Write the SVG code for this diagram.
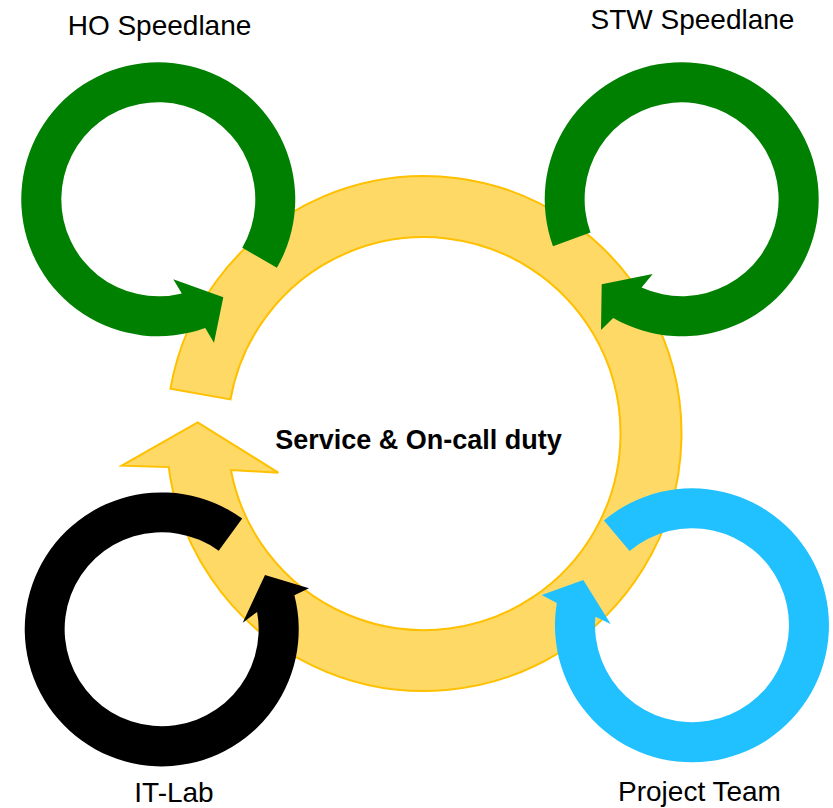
<svg xmlns="http://www.w3.org/2000/svg" width="833" height="808" viewBox="0 0 833 808">
  <style>
    .lbl { font-family: "Liberation Sans", Arial, sans-serif; font-size: 28px; fill: #000000; text-anchor: middle; }
    .center { font-family: "Liberation Sans", Arial, sans-serif; font-size: 27px; font-weight: bold; fill: #000000; text-anchor: middle; }
    .core { fill: #FFD966; stroke: #FFC000; stroke-width: 2; stroke-linejoin: miter; }
    .green { fill: #008000; }
    .black { fill: #000000; }
    .blue { fill: #21C0FF; }
  </style>
  <rect width="833" height="808" fill="#FFFFFF"/>
  <g id="service-oncall">
    <path class="core" d="M 170.4 388.8 A 257.5 257.5 0 1 1 168.7 467.1 L 121.7 465.7 L 197.7 422.3 L 278.3 472.7 L 230.9 470.0 A 196.5 196.5 0 1 0 230.5 399.4 Z"/>
    <text class="center" x="418.5" y="449">Service &amp; On-call duty</text>
  </g>
  <g id="ho-speedlane">
    <path class="green" d="M 276.9 267.8 A 137 137 0 1 0 205.2 328.0 L 214 342.7 L 223.3 297.3 L 173.3 279.3 L 181.8 293.4 A 97 97 0 1 1 242.3 247.8 Z"/>
    <text class="lbl" x="159.5" y="35">HO Speedlane</text>
  </g>
  <g id="stw-speedlane">
    <path class="green" d="M 553.0 246.2 A 137 137 0 1 1 613.2 317.9 L 601 330 L 601.7 284.3 L 652.7 274 L 641.6 287.6 A 97 97 0 1 0 590.5 232.5 Z"/>
    <text class="lbl" x="692.5" y="29">STW Speedlane</text>
  </g>
  <g id="it-lab">
    <path class="black" d="M 242.2 518.5 A 137 137 0 1 0 294.4 595.2 L 309 588.3 L 265 575 L 242.7 622.7 L 257.1 612.0 A 97 97 0 1 1 218.7 550.8 Z"/>
    <text class="lbl" x="174" y="801.5">IT-Lab</text>
  </g>
  <g id="project-team">
    <path class="blue" d="M 603.9 520.4 A 137 137 0 1 1 556.8 602.9 L 541.7 595 L 583.3 580 L 610.7 624 L 595.4 616.7 A 97 97 0 1 0 629.6 551.0 Z"/>
    <text class="lbl" x="699.5" y="801">Project Team</text>
  </g>
  <g id="connectors"/>
</svg>
